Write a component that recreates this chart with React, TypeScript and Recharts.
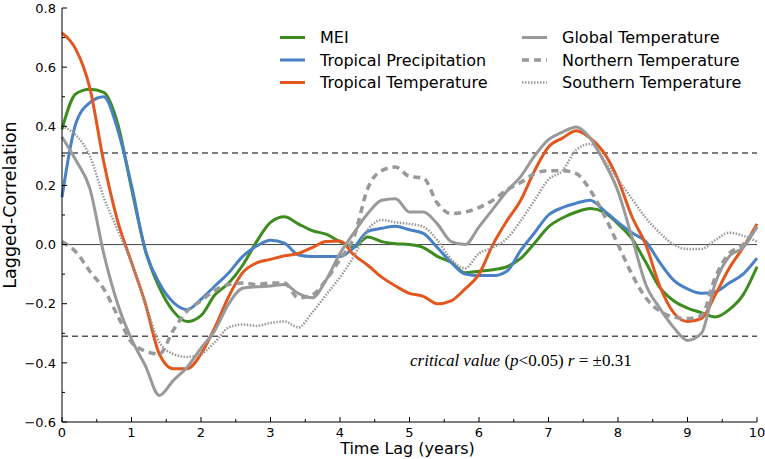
import React from "react";
import { LineChart, Line, XAxis, YAxis, ReferenceLine } from "recharts";

// Time lag (years)
const lag = [
  0, 0.2, 0.4, 0.6, 0.8, 1, 1.2, 1.4, 1.6, 1.8, 2, 2.2, 2.4, 2.6, 2.8, 3, 3.2, 3.4, 3.6, 3.8, 4,
  4.2, 4.4, 4.6, 4.8, 5, 5.2, 5.4, 5.6, 5.8, 6, 6.2, 6.4, 6.6, 6.8, 7, 7.2, 7.4, 7.6, 7.8, 8,
  8.2, 8.4, 8.6, 8.8, 9, 9.2, 9.4, 9.6, 9.8, 10,
];

const mei = [
  0.39, 0.51, 0.525, 0.515, 0.41, 0.19, -0.02, -0.145, -0.225, -0.26, -0.24, -0.17, -0.13, -0.07, 0.01, 0.075, 0.094, 0.07, 0.047, 0.035, 0.01,
  -0.008, 0.026, 0.01, 0.003, 0.0, -0.01, -0.04, -0.06, -0.095, -0.09, -0.085, -0.075, -0.047, 0.005, 0.06, 0.09, 0.11, 0.122, 0.11, 0.07,
  0.02, -0.06, -0.145, -0.19, -0.215, -0.23, -0.245, -0.22, -0.17, -0.075,
];

const tropPrecip = [
  0.16, 0.41, 0.48, 0.5, 0.39, 0.2, -0.02, -0.13, -0.195, -0.22, -0.185, -0.14, -0.095, -0.04, -0.005, 0.015, 0.005, -0.035, -0.04, -0.04, -0.04,
  -0.01, 0.045, 0.055, 0.062, 0.05, 0.038, -0.01, -0.06, -0.1, -0.105, -0.105, -0.09, -0.02, 0.04, 0.1, 0.125, 0.14, 0.15, 0.115, 0.075,
  0.04, 0.01, -0.06, -0.12, -0.15, -0.165, -0.16, -0.13, -0.1, -0.046,
];

const tropTemp = [
  0.716, 0.66, 0.53, 0.28, 0.08, -0.06, -0.2, -0.37, -0.42, -0.42, -0.37, -0.28, -0.175, -0.095, -0.062, -0.05, -0.038, -0.03, -0.01, 0.01, 0.012,
  -0.035, -0.07, -0.11, -0.14, -0.165, -0.175, -0.2, -0.19, -0.15, -0.1, 0.0, 0.08, 0.15, 0.25, 0.33, 0.36, 0.385, 0.36, 0.31, 0.22,
  0.095, 0.0, -0.14, -0.23, -0.26, -0.25, -0.17, -0.08, -0.01, 0.07,
];

const globalTemp = [
  0.364, 0.285, 0.19, -0.03, -0.2, -0.32, -0.41, -0.51, -0.46, -0.415, -0.35, -0.29, -0.2, -0.148, -0.143, -0.14, -0.135, -0.165, -0.18, -0.12, -0.03,
  0.04, 0.105, 0.15, 0.155, 0.11, 0.11, 0.07, 0.01, 0.0, 0.06, 0.12, 0.18, 0.23, 0.3, 0.355, 0.38, 0.398, 0.36, 0.28, 0.18,
  0.025, -0.135, -0.215, -0.28, -0.324, -0.3, -0.13, -0.04, -0.01, 0.06,
];

const northTemp = [
  0.01, -0.025, -0.09, -0.15, -0.24, -0.33, -0.36, -0.37, -0.29, -0.225, -0.19, -0.155, -0.135, -0.13, -0.135, -0.13, -0.13, -0.18, -0.17, -0.12, -0.05,
  0.025, 0.19, 0.25, 0.262, 0.23, 0.225, 0.14, 0.105, 0.11, 0.125, 0.15, 0.185, 0.21, 0.24, 0.25, 0.25, 0.24, 0.184, 0.1, 0.0,
  -0.1, -0.18, -0.225, -0.245, -0.25, -0.24, -0.11, -0.03, 0.0, 0.06,
];

const southTemp = [
  0.4, 0.37, 0.3, 0.16, 0.05, -0.06, -0.2, -0.33, -0.37, -0.38, -0.37, -0.33, -0.28, -0.27, -0.275, -0.265, -0.26, -0.28, -0.23, -0.17, -0.11,
  -0.04, 0.05, 0.083, 0.075, 0.07, 0.06, 0.015, -0.05, -0.08, -0.03, -0.01, 0.02, 0.08, 0.15, 0.22, 0.25, 0.32, 0.34, 0.285, 0.22,
  0.155, 0.09, 0.04, 0.0, -0.015, -0.015, 0.015, 0.04, 0.03, 0.01,
];

const xTicks = [0, 0.5, 1, 1.5, 2, 2.5, 3, 3.5, 4, 4.5, 5, 5.5, 6, 6.5, 7, 7.5, 8, 8.5, 9, 9.5, 10];
const yTicks = [-0.6, -0.5, -0.4, -0.3, -0.2, -0.1, 0, 0.1, 0.2, 0.3, 0.4, 0.5, 0.6, 0.7, 0.8];
const criticalValue = 0.31;

const seriesNames = ["MEI", "Tropical Precipitation", "Tropical Temperature", "Global Temperature", "Northern Temperature", "Southern Temperature"];

const rows = lag.map((t, i) => ({
  lag: t,
  mei: mei[i],
  precip: tropPrecip[i],
  ttemp: tropTemp[i],
  global: globalTemp[i],
  north: northTemp[i],
  south: southTemp[i],
}));

const GREEN = "#3d8c1f";
const BLUE = "#4a80c4";
const ORANGE = "#e2571e";
const GRAY = "#999999";
const FONT = "'DejaVu Sans', sans-serif";

const isMajorY = (v: number) => Math.round(v * 10) % 2 === 0;
const fmtY = (v: number) => v.toFixed(1).replace("-", "\u2212");

const XTickBottom = (props: any) => {
  const { x, y, payload } = props;
  const v = payload.value;
  const major = Number.isInteger(v);
  return (
    <g>
      <line x1={x} x2={x} y1={y} y2={y - (major ? 5 : 3)} stroke="#000" strokeWidth={1} />
      {major && (
        <text x={x} y={y + 15} textAnchor="middle" fontSize={13} fontFamily={FONT} fill="#000">
          {String(v)}
        </text>
      )}
    </g>
  );
};

const XTickTop = (props: any) => {
  const { x, y, payload } = props;
  const major = Number.isInteger(payload.value);
  return <line x1={x} x2={x} y1={y} y2={y + (major ? 5 : 3)} stroke="#000" strokeWidth={1} />;
};

const YTickLeft = (props: any) => {
  const { x, y, payload } = props;
  const v = payload.value;
  const major = isMajorY(v);
  return (
    <g>
      <line x1={x} x2={x + (major ? 5 : 3)} y1={y} y2={y} stroke="#000" strokeWidth={1} />
      {major && (
        <text x={x - 6} y={y} dy="0.36em" textAnchor="end" fontSize={13} fontFamily={FONT} fill="#000">
          {fmtY(v)}
        </text>
      )}
    </g>
  );
};

const YTickRight = (props: any) => {
  const { x, y, payload } = props;
  const major = isMajorY(payload.value);
  return <line x1={x} x2={x - (major ? 5 : 3)} y1={y} y2={y} stroke="#000" strokeWidth={1} />;
};

type LegendItem = { name: string; color: string; dash?: string; width: number };
const legendItems: LegendItem[] = [
  { name: seriesNames[0], color: GREEN, width: 3 },
  { name: seriesNames[1], color: BLUE, width: 3 },
  { name: seriesNames[2], color: ORANGE, width: 3 },
  { name: seriesNames[3], color: GRAY, width: 3 },
  { name: seriesNames[4], color: GRAY, dash: "7 5", width: 3.5 },
  { name: seriesNames[5], color: GRAY, dash: "1.5 1.5", width: 2.5 },
];

export default function App() {
  return (
    <div style={{ position: "absolute", left: 0, top: 0, width: 765, height: 459, background: "#fff" }}>
      <LineChart width={765} height={459} data={rows} margin={{ top: 8, right: 8, bottom: 0, left: 0 }}>
        <XAxis
          xAxisId="main"
          dataKey="lag"
          type="number"
          domain={[0, 10]}
          ticks={xTicks}
          interval={0}
          height={37}
          tickSize={0}
          tickMargin={0}
          tickLine={false}
          axisLine={{ stroke: "#000", strokeWidth: 1 }}
          tick={<XTickBottom />}
        />
        <XAxis
          xAxisId="top"
          orientation="top"
          dataKey="lag"
          type="number"
          domain={[0, 10]}
          ticks={xTicks}
          interval={0}
          height={0}
          tickSize={0}
          tickMargin={0}
          tickLine={false}
          axisLine={{ stroke: "#000", strokeWidth: 1 }}
          tick={<XTickTop />}
        />
        <YAxis
          yAxisId="left"
          type="number"
          domain={[-0.6, 0.8]}
          ticks={yTicks}
          interval={0}
          width={62}
          tickSize={0}
          tickMargin={0}
          tickLine={false}
          allowDataOverflow
          axisLine={{ stroke: "#000", strokeWidth: 1 }}
          tick={<YTickLeft />}
        />
        <YAxis
          yAxisId="right"
          orientation="right"
          type="number"
          domain={[-0.6, 0.8]}
          ticks={yTicks}
          interval={0}
          width={0}
          tickSize={0}
          tickMargin={0}
          tickLine={false}
          allowDataOverflow
          axisLine={{ stroke: "#000", strokeWidth: 1 }}
          tick={<YTickRight />}
        />
        <ReferenceLine xAxisId="main" yAxisId="left" y={0} stroke="#444" strokeWidth={1} />
        <ReferenceLine xAxisId="main" yAxisId="left" y={criticalValue} stroke="#555" strokeWidth={1.5} strokeDasharray="6 4" />
        <ReferenceLine xAxisId="main" yAxisId="left" y={-criticalValue} stroke="#555" strokeWidth={1.5} strokeDasharray="6 4" />
        <Line xAxisId="main" yAxisId="left" type="monotone" dataKey="mei" name={seriesNames[0]} stroke={GREEN} strokeWidth={3} dot={false} isAnimationActive={false} />
        <Line xAxisId="main" yAxisId="left" type="monotone" dataKey="precip" name={seriesNames[1]} stroke={BLUE} strokeWidth={3} dot={false} isAnimationActive={false} />
        <Line xAxisId="main" yAxisId="left" type="monotone" dataKey="ttemp" name={seriesNames[2]} stroke={ORANGE} strokeWidth={3} dot={false} isAnimationActive={false} />
        <Line xAxisId="main" yAxisId="left" type="monotone" dataKey="global" name={seriesNames[3]} stroke={GRAY} strokeWidth={3} dot={false} isAnimationActive={false} />
        <Line xAxisId="main" yAxisId="left" type="monotone" dataKey="north" name={seriesNames[4]} stroke={GRAY} strokeWidth={3.5} strokeDasharray="7 5" dot={false} isAnimationActive={false} />
        <Line xAxisId="main" yAxisId="left" type="monotone" dataKey="south" name={seriesNames[5]} stroke={GRAY} strokeWidth={2.5} strokeDasharray="1.5 1.5" dot={false} isAnimationActive={false} />
      </LineChart>
      <svg width={765} height={459} style={{ position: "absolute", left: 0, top: 0, pointerEvents: "none" }}>
        <text
          x={16}
          y={205}
          transform="rotate(-90 16 205)"
          textAnchor="middle"
          fontSize={17.5}
          fontFamily={FONT}
          fill="#000"
        >
          Lagged-Correlation
        </text>
        <text x={407.5} y={454} textAnchor="middle" fontSize={16} fontFamily={FONT} fill="#000">
          Time Lag (years)
        </text>
        {legendItems.map((it, i) => {
          const col = i < 3 ? 0 : 1;
          const row = i % 3;
          const lx = col === 0 ? 280 : 522;
          const cy = 37.5 + row * 22.5;
          return (
            <g key={it.name}>
              <line x1={lx} x2={lx + 25} y1={cy} y2={cy} stroke={it.color} strokeWidth={it.width} strokeDasharray={it.dash} />
              <text x={lx + 40} y={cy + 5.5} fontSize={16} fontFamily={FONT} fill="#000">
                {it.name}
              </text>
            </g>
          );
        })}
        <text x={410} y={366} fontSize={17} fontFamily="'Liberation Serif', 'DejaVu Serif', serif" fill="#000">
          <tspan fontStyle="italic">critical value</tspan>
          <tspan> (</tspan>
          <tspan fontStyle="italic">p</tspan>
          <tspan>{"<0.05) "}</tspan>
          <tspan fontStyle="italic">r</tspan>
          <tspan>{" = \u00B10.31"}</tspan>
        </text>
      </svg>
    </div>
  );
}
